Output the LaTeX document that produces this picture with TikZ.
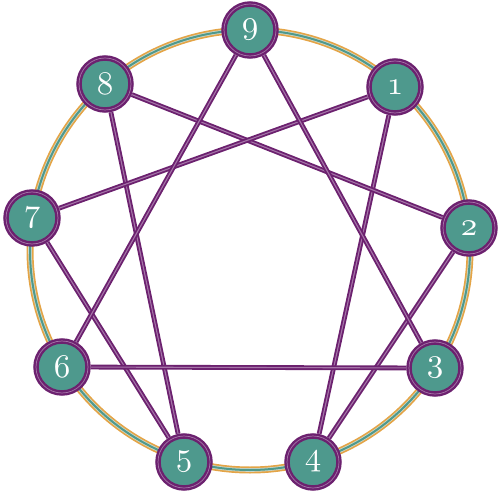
\documentclass[tikz,border=0pt]{standalone}
\definecolor{tealfill}{HTML}{4E998D}
\definecolor{purp}{HTML}{6C216F}
\definecolor{purplight}{HTML}{A574A8}
\definecolor{ringorange}{HTML}{E4A446}
\definecolor{ringteal}{HTML}{4E998D}
\definecolor{ringlight}{HTML}{C9D6C8}
\newcommand{\osdigit}[1]{\scalebox{3.3}{$\mathnormal{#1}$}}
\begin{document}
\begin{tikzpicture}[x=1pt,y=-1pt,
  pt/.style={circle, minimum size=52pt, inner sep=0pt, fill=tealfill, draw=purp, line width=5.5pt,
    postaction={draw=purplight, line width=0.7pt},
    font=\fontsize{10}{10}\selectfont, text=white},
  conn/.style={draw=purp, line width=4.8pt, postaction={draw=purplight, line width=1.1pt}}]
\useasboundingbox (0,0) rectangle (500,494);
% outer ring
\draw[ringorange, line width=7pt] (250,250) circle (220);
\draw[ringlight, line width=3.6pt] (250,250) circle (220);
\draw[ringteal, line width=2pt] (250,250) circle (220);
% points
\node[pt] (n9) at (250,30) {\osdigit{9}};
\node[pt] (n1) at (395,87) {\osdigit{1}};
\node[pt] (n2) at (469,228) {\osdigit{2}};
\node[pt] (n3) at (435,368) {\osdigit{3}};
\node[pt] (n4) at (313,462) {\osdigit{4}};
\node[pt] (n5) at (184,462) {\osdigit{5}};
\node[pt] (n6) at (62,367) {\osdigit{6}};
\node[pt] (n7) at (32,218) {\osdigit{7}};
\node[pt] (n8) at (105,84) {\osdigit{8}};
% connectors
\draw[conn] (n1) -- (n4);
\draw[conn] (n4) -- (n2);
\draw[conn] (n2) -- (n8);
\draw[conn] (n8) -- (n5);
\draw[conn] (n5) -- (n7);
\draw[conn] (n7) -- (n1);
\draw[conn] (n9) -- (n3);
\draw[conn] (n3) -- (n6);
\draw[conn] (n6) -- (n9);
\end{tikzpicture}
\end{document}
